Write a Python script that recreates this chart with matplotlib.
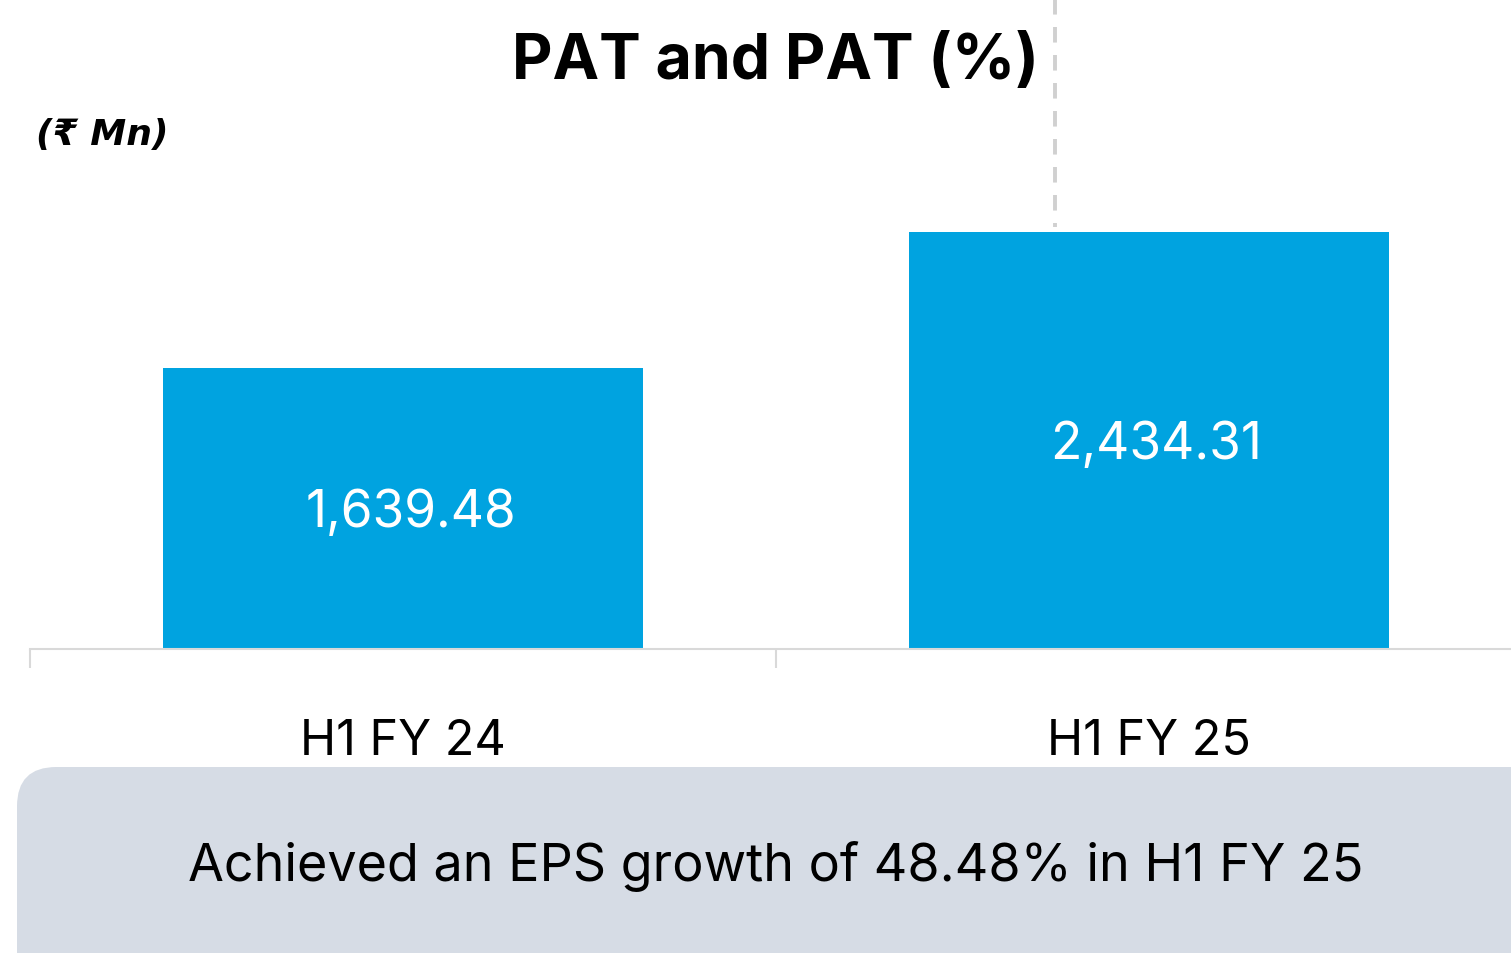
import matplotlib.pyplot as plt
from matplotlib.patches import FancyBboxPatch

# data
categories = ['H1 FY 24', 'H1 FY 25']
pat_values = [1639.48, 2434.31]
value_labels = ['1,639.48', '2,434.31']
title = 'PAT and PAT (%)'
unit_label = '(₹ Mn)'
note = 'Achieved an EPS growth of 48.48% in H1 FY 25'

plt.rcParams['font.family'] = ['Inter', 'DejaVu Sans']

W, H = 1511, 954
fig = plt.figure(figsize=(W / 100, H / 100), dpi=100)

# axes spans x 30..1522 px, y 0..650 px (from top)
ax = fig.add_axes([30 / W, (H - 650) / H, 1492 / W, 650 / H])
ax.set_xlim(-0.5, 1.5)
ax.set_ylim(0, 3792)
ax.patch.set_alpha(0)

x = range(len(categories))
ax.bar(x, pat_values, width=0.643, color='#00a3e0', zorder=2)

for i, v in enumerate(pat_values):
    ax.text(i + 0.01, v / 2 - 25, value_labels[i], ha='center', va='center',
            color='white', fontsize=37)

# dashed separator, drawn from the top down
ax.plot([0.874, 0.874], [3792, pat_values[1] + 25], color='#d0d0d0',
        lw=2.8, ls=(0, (4, 3.2)), zorder=1, clip_on=False)

for s in ['top', 'right', 'left']:
    ax.spines[s].set_visible(False)
ax.spines['bottom'].set_color('#d9d9d9')
ax.spines['bottom'].set_linewidth(1.5)
ax.set_yticks([])
ax.set_xticks([-0.5, 0.5, 1.5], minor=False)
ax.set_xticklabels([])
ax.tick_params(axis='x', which='major', length=14, width=1.5, color='#d9d9d9')
ax.set_xticks(list(x), minor=True)
ax.set_xticklabels(categories, minor=True, fontsize=35)
ax.tick_params(axis='x', which='minor', length=0, pad=50)

fig.text(775 / W, 1 - 62 / H, title, ha='center', va='center',
         fontsize=45, fontweight='bold')
fig.text(36 / W, 1 - 135 / H, unit_label, ha='left', va='center',
         fontsize=26, fontweight='bold', fontstyle='italic',
         family=['DejaVu Sans'])

# note box
box = FancyBboxPatch((17 / W, -0.1), 1.2, (H - 768) / H + 0.1,
                     boxstyle='round,pad=0,rounding_size=0.026',
                     transform=fig.transFigure, facecolor='#d6dce5',
                     edgecolor='none', mutation_aspect=W / H)
fig.patches.append(box)
fig.text(776 / W, 1 - 867 / H, note, ha='center', va='center',
         fontsize=37.5)

fig.savefig('out.png', dpi=100)
